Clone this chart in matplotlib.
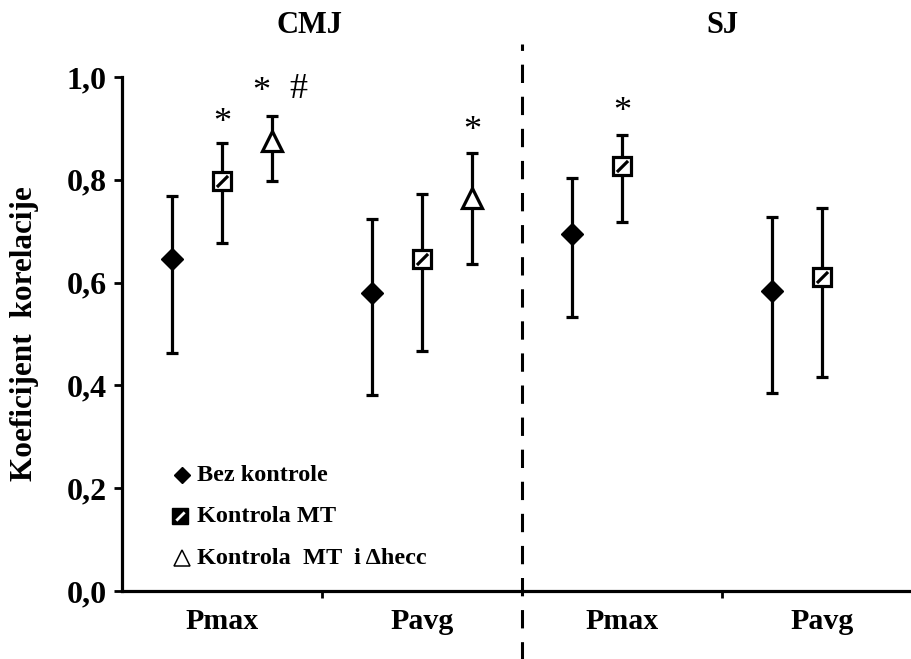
import matplotlib
matplotlib.use("Agg")
import matplotlib.pyplot as plt
from matplotlib.path import Path
import numpy as np

# ---- data ----
categories = ["Pmax", "Pavg", "Pmax", "Pavg"]
groups = ["CMJ", "SJ"]
bez_val = [0.646, 0.580, 0.695, 0.584]
bez_lo = [0.464, 0.381, 0.533, 0.385]
bez_hi = [0.768, 0.724, 0.804, 0.728]
mt_val = [0.798, 0.646, 0.826, 0.610]
mt_lo = [0.677, 0.466, 0.717, 0.417]
mt_hi = [0.872, 0.772, 0.888, 0.745]
tri_val = [0.875, 0.765]
tri_lo = [0.798, 0.637]
tri_hi = [0.924, 0.852]
yticks = [0.0, 0.2, 0.4, 0.6, 0.8, 1.0]
ytick_labels = ["0,0", "0,2", "0,4", "0,6", "0,8", "1,0"]
legend_labels = ["Bez kontrole", "Kontrola MT", "Kontrola  MT  i \u0394hecc"]
ylabel = "Koeficijent  korelacije"

SERIF = ["Liberation Serif", "DejaVu Serif"]
plt.rcParams['font.family'] = SERIF

fig = plt.figure(figsize=(9.12, 6.59), dpi=100)
W, H = 912, 659
left, right, bottom, top = 122, 910, 591, 77
ax = fig.add_axes([left / W, (H - bottom) / H, (right - left) / W, (bottom - top) / H])

cat_x = np.arange(len(categories)) + 0.5
off = 0.25

def errbar(x, v, lo, hi):
    v = np.asarray(v); lo = np.asarray(lo); hi = np.asarray(hi)
    ax.errorbar(x, v, yerr=[v - lo, hi - v], fmt='none', ecolor='black',
                elinewidth=2.3, capsize=4.5, capthick=2.3, zorder=2)

# Bez kontrole
errbar(cat_x - off, bez_val, bez_lo, bez_hi)
ax.plot(cat_x - off, bez_val, linestyle='none', marker='D', markersize=11.5,
        markerfacecolor='black', markeredgecolor='black', zorder=3)

# Kontrola MT
errbar(cat_x, mt_val, mt_lo, mt_hi)
ax.plot(cat_x, mt_val, linestyle='none', marker='s', markersize=13.5,
        markerfacecolor='white', markeredgecolor='black', markeredgewidth=2.3, zorder=3)
diag = Path([(-1, -1), (1, 1)], [Path.MOVETO, Path.LINETO])
ax.plot(cat_x, mt_val, linestyle='none', marker=diag, markersize=8,
        markerfacecolor='none', markeredgecolor='black', markeredgewidth=2.3, zorder=4)

# Kontrola MT i Δhecc (CMJ only)
tri_x = cat_x[:2] + off
errbar(tri_x, tri_val, tri_lo, tri_hi)
ax.plot(tri_x, tri_val, linestyle='none', marker='^', markersize=15,
        markerfacecolor='white', markeredgecolor='black', markeredgewidth=2.3, zorder=3)

# axes styling
ax.set_xlim(0, (right - left) / 200)
ax.set_ylim(0, 1.0)
for s in ['top', 'right']:
    ax.spines[s].set_visible(False)
for s in ['left', 'bottom']:
    ax.spines[s].set_linewidth(2.3)
ax.set_yticks(yticks)
ax.set_yticklabels(ytick_labels, fontsize=23, fontweight='bold')
ax.tick_params(axis='y', direction='out', length=6, width=2, pad=5)
ax.set_xticks([1, 3])
ax.set_xticklabels([])
ax.tick_params(axis='x', direction='out', length=5, width=2)
for x, lab in zip(cat_x, categories):
    ax.text(x, -0.06, lab, ha='center', va='center', fontsize=21.5, fontweight='bold',
            clip_on=False)

ax.set_ylabel(ylabel, fontsize=22.5, fontweight='bold', labelpad=20)

# divider
ax.plot([2.0, 2.0], [-0.135, 1.065], color='black', linewidth=2.2,
        linestyle=(0, (6, 4.5)), clip_on=False, zorder=1)

# group titles
ax.text(0.94, 1.1, groups[0], ha='center', va='center', fontsize=22, fontweight='bold', clip_on=False)
ax.text(3.0, 1.1, groups[1], ha='center', va='center', fontsize=22, fontweight='bold', clip_on=False)

# significance marks
def mark(x, y, s):
    ax.text(x, y, s, ha='center', va='center', fontsize=26, clip_on=False)

mark(cat_x[0], 0.91, "*")
mark(cat_x[0] + off - 0.055, 0.97, "*")
mark(cat_x[0] + off + 0.13, 0.975, "#")
mark(cat_x[1] + off, 0.893, "*")
mark(cat_x[2], 0.93, "*")

# legend (manual)
leg_y = [0.225, 0.145, 0.064]
leg_mx = 0.30
ax.plot([leg_mx], [leg_y[0]], marker='D', markersize=8, color='black', linestyle='none')
ax.plot([leg_mx - 0.01], [leg_y[1]], marker='s', markersize=12, markerfacecolor='black',
        markeredgecolor='black', linestyle='none')
ax.plot([leg_mx - 0.01], [leg_y[1]], marker=diag, markersize=6, markeredgecolor='white',
        markeredgewidth=2, linestyle='none')
ax.plot([leg_mx], [leg_y[2]], marker='^', markersize=11, markerfacecolor='white',
        markeredgecolor='black', markeredgewidth=1.1, linestyle='none')
for yy, lab in zip(leg_y, legend_labels):
    ax.text(leg_mx + 0.075, yy, lab, ha='left', va='center', fontsize=17.5, fontweight='bold')

fig.savefig("out.png", dpi=100)
